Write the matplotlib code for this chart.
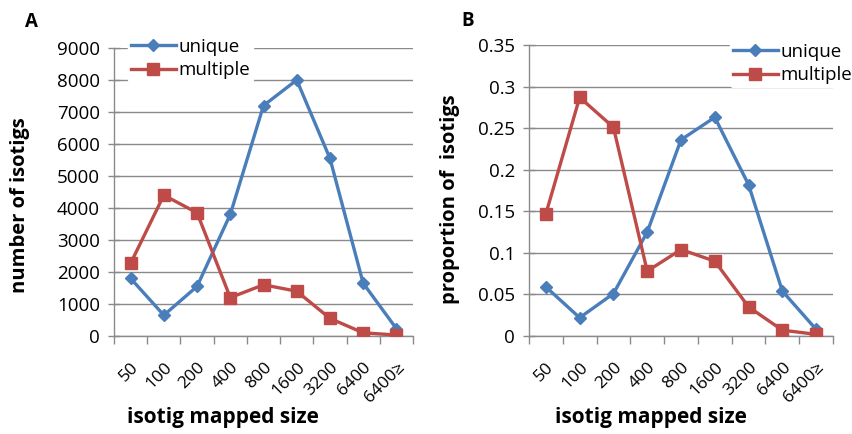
import matplotlib
matplotlib.use("Agg")
import matplotlib.pyplot as plt
import numpy as np

categories = ["50", "100", "200", "400", "800", "1600", "3200", "6400", "6400≥"]
count_unique = [1800, 650, 1550, 3800, 7200, 8000, 5550, 1650, 230]
count_multiple = [2270, 4400, 3850, 1200, 1600, 1400, 550, 100, 30]
prop_unique = [0.059, 0.022, 0.051, 0.125, 0.236, 0.263, 0.182, 0.054, 0.008]
prop_multiple = [0.147, 0.287, 0.251, 0.078, 0.104, 0.090, 0.035, 0.007, 0.002]

BLUE = "#4A7EBB"
RED = "#BE4B48"
GRID = "#8A8A8A"

plt.rcParams['font.family'] = ['Open Sans', 'DejaVu Sans']

W, H = 852, 434
fig = plt.figure(figsize=(W / 100, H / 100), dpi=100)

def px_axes(x0, y_top, x1, y_bot):
    return [x0 / W, 1 - y_bot / H, (x1 - x0) / W, (y_bot - y_top) / H]

def style(ax, ymax, step, fmt):
    n = len(categories)
    x = np.arange(n)
    ax.set_xlim(-0.5, n - 0.5)
    ax.set_ylim(0, ymax)
    ticks = np.arange(0, ymax + step / 2, step)
    ax.set_yticks(ticks)
    ax.set_yticklabels([fmt(t) for t in ticks])
    ax.set_xticks(x)
    ax.set_xticklabels(categories, rotation=45, ha='right', va='top',
                       rotation_mode='anchor')
    ax.set_xticks(np.arange(-0.5, n, 1.0), minor=True)
    ax.tick_params(axis='x', which='major', length=0, pad=17, labelsize=12.5)
    ax.tick_params(axis='x', which='minor', length=6, direction='out',
                   color=GRID, width=1)
    ax.tick_params(axis='y', length=8, direction='inout', color=GRID,
                   width=1, labelsize=13.5, pad=6)
    for s in ['top', 'right']:
        ax.spines[s].set_visible(False)
    for s in ['left', 'bottom']:
        ax.spines[s].set_color(GRID)
        ax.spines[s].set_linewidth(1)
    ax.yaxis.grid(True, color=GRID, linewidth=1)
    ax.set_axisbelow(True)
    return x

def legend(ax, xpx, ypx):
    leg = ax.legend(loc='upper left', bbox_to_anchor=(xpx / W, 1 - ypx / H),
                    bbox_transform=fig.transFigure, frameon=True, fontsize=13.5,
                    handlelength=2.4, handletextpad=0.15, labelspacing=0.3,
                    borderpad=0.15, borderaxespad=0)
    fr = leg.get_frame()
    fr.set_facecolor('white')
    fr.set_edgecolor('white')
    fr.set_alpha(1)
    return leg

# Panel A
axA = fig.add_axes(px_axes(114, 48, 413, 336))
x = style(axA, 9000, 1000, lambda t: f"{int(t)}")
axA.plot(x, count_unique, color=BLUE, lw=2.4, marker='D', ms=6.5,
         label='unique', zorder=3)
axA.plot(x, count_multiple, color=RED, lw=2.4, marker='s', ms=9,
         label='multiple', zorder=3)
legend(axA, 128, 35)
fig.text(20 / W, 1 - 205 / H, "number of isotigs", fontsize=14.5,
         fontweight='bold', ha='center', va='center', rotation=90)
fig.text(223 / W, 1 - 417 / H, "isotig mapped size", fontsize=15,
         fontweight='bold', ha='center', va='center')
fig.text(25 / W, 1 - 22 / H, "A", fontsize=13.5, fontweight='bold',
         ha='left', va='center')

# Panel B
axB = fig.add_axes(px_axes(529, 45, 833, 336))
def fmtB(t):
    return f"{t:.2f}".rstrip('0').rstrip('.')
x = style(axB, 0.35, 0.05, fmtB)
axB.plot(x, prop_unique, color=BLUE, lw=2.4, marker='D', ms=6.5,
         label='unique', zorder=3)
axB.plot(x, prop_multiple, color=RED, lw=2.4, marker='s', ms=9,
         label='multiple', zorder=3)
legend(axB, 730, 40)
fig.text(450 / W, 1 - 199 / H, "proportion of  isotigs", fontsize=14.5,
         fontweight='bold', ha='center', va='center', rotation=90)
fig.text(651 / W, 1 - 417 / H, "isotig mapped size", fontsize=15,
         fontweight='bold', ha='center', va='center')
fig.text(461 / W, 1 - 21 / H, "B", fontsize=13.5, fontweight='bold',
         ha='left', va='center')

fig.savefig("out.png", dpi=100, facecolor='white')
